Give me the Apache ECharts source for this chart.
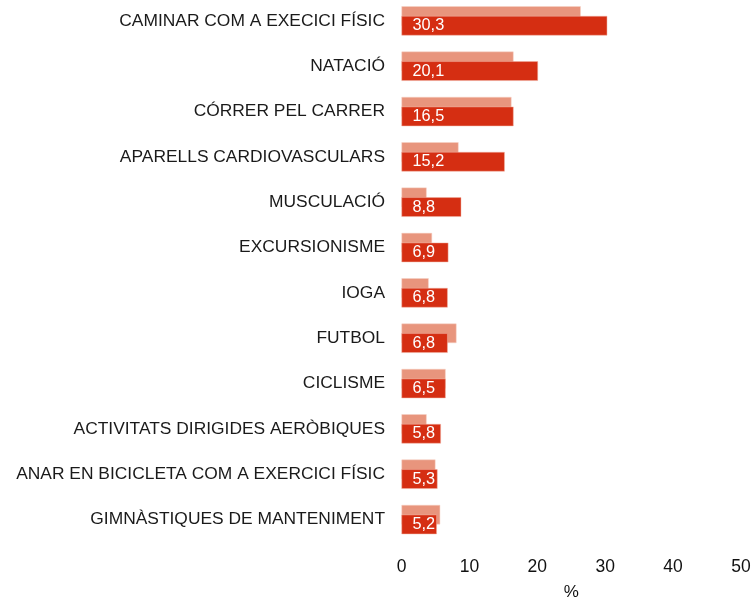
<!DOCTYPE html>
<html>
<head>
<meta charset="utf-8">
<script src="https://cdn.jsdelivr.net/npm/echarts@6/dist/echarts.min.js"></script>
<style>
  html, body { margin: 0; padding: 0; background: #fff; }
  #chart { width: 755px; height: 599px; }
</style>
</head>
<body>
<div id="chart"></div>
<script>
var categories = [
  'CAMINAR COM A EXECICI FÍSIC',
  'NATACIÓ',
  'CÓRRER PEL CARRER',
  'APARELLS CARDIOVASCULARS',
  'MUSCULACIÓ',
  'EXCURSIONISME',
  'IOGA',
  'FUTBOL',
  'CICLISME',
  'ACTIVITATS DIRIGIDES AERÒBIQUES',
  'ANAR EN BICICLETA COM A EXERCICI FÍSIC',
  'GIMNÀSTIQUES DE MANTENIMENT'
];
var previousValues = [26.4, 16.5, 16.2, 8.4, 3.7, 4.5, 4.0, 8.1, 6.5, 3.7, 5.0, 5.7];
var currentValues = [30.3, 20.1, 16.5, 15.2, 8.8, 6.9, 6.8, 6.8, 6.5, 5.8, 5.3, 5.2];
var xTicks = [0, 10, 20, 30, 40, 50];

var font = '"Liberation Sans", Arial, sans-serif';
var chart = echarts.init(document.getElementById('chart'));

var option = {
  animation: false,
  textStyle: { fontFamily: font },
  grid: {
    left: 401.5,
    right: 14,
    top: -1.8,
    bottom: 56.8,
    outerBoundsMode: 'none'
  },
  xAxis: {
    type: 'value',
    min: xTicks[0],
    max: xTicks[xTicks.length - 1],
    interval: 10,
    name: '%',
    nameLocation: 'middle',
    nameGap: 42,
    nameTextStyle: { fontSize: 17, color: '#111', fontFamily: font },
    axisLine: { show: false },
    axisTick: { show: false },
    splitLine: { show: false },
    axisLabel: { fontSize: 17.5, color: '#111', margin: 16, fontFamily: font }
  },
  yAxis: {
    type: 'category',
    inverse: true,
    data: categories,
    axisLine: { show: false },
    axisTick: { show: false },
    axisLabel: { fontSize: 17.4, color: '#1a1a1a', margin: 16.5, fontFamily: font }
  },
  series: [
    {
      name: 'anterior',
      type: 'bar',
      data: previousValues,
      barWidth: 19.5,
      barGap: '-50%',
      itemStyle: { color: '#e8957d', borderColor: '#f6d2c6', borderWidth: 0.5 }
    },
    {
      name: 'actual',
      type: 'bar',
      data: currentValues,
      barWidth: 19.5,
      itemStyle: { color: '#d52e12', borderColor: '#f0b0a0', borderWidth: 0.5 },
      label: {
        show: true,
        position: 'insideLeft',
        distance: 11,
        color: '#fff',
        fontSize: 16.3,
        fontFamily: font,
        formatter: function (p) { return p.value.toFixed(1).replace('.', ','); }
      }
    }
  ]
};

chart.setOption(option);
</script>
</body>
</html>
